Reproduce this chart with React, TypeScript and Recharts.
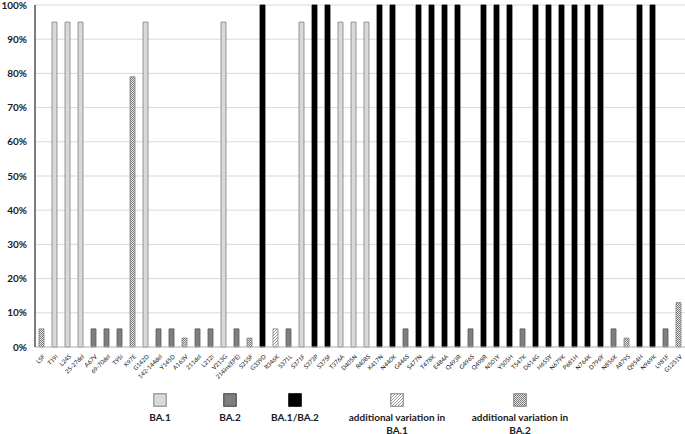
import React from "react";
import { BarChart, Bar, XAxis, YAxis, CartesianGrid, Cell } from "recharts";

const categories = [
  "L5F", "T19I", "L24S", "25-27del", "A67V", "69-70del", "T95I", "K97E", "G142D", "142-144del",
  "Y145D", "A163V", "211del", "L212I", "V213G", "214ins(EPE)", "S255F", "G339D", "R346K", "S371L",
  "S371F", "S373P", "S375F", "T376A", "D405N", "R408S", "K417N", "N440K", "G446S", "S477N",
  "T478K", "E484A", "Q493R", "G496S", "Q498R", "N501Y", "Y505H", "T547K", "D614G", "H655Y",
  "N679K", "P681H", "N764K", "D796Y", "N856K", "A879S", "Q954H", "N969K", "L981F", "G1251V",
];

const values = [
  5.3, 95, 95, 95, 5.3, 5.3, 5.3, 79, 95, 5.3,
  5.3, 2.6, 5.3, 5.3, 95, 5.3, 2.6, 100, 5.3, 5.3,
  95, 100, 100, 95, 95, 95, 100, 100, 5.3, 100,
  100, 100, 100, 5.3, 100, 100, 100, 5.3, 100, 100,
  100, 100, 100, 100, 5.3, 2.6, 100, 100, 5.3, 13,
];

// a = BA.1, b = BA.2, c = BA.1/BA.2, d = additional variation in BA.1, e = additional variation in BA.2
const groups = [
  "e", "a", "a", "a", "b", "b", "b", "e", "a", "b",
  "b", "e", "b", "b", "a", "b", "e", "c", "d", "b",
  "a", "c", "c", "a", "a", "a", "c", "c", "b", "c",
  "c", "c", "c", "b", "c", "c", "c", "b", "c", "c",
  "c", "c", "c", "c", "b", "e", "c", "c", "b", "e",
];

const legendKeys = ["a", "b", "c", "d", "e"];
const legendLabels = ["BA.1", "BA.2", "BA.1/BA.2", "additional variation in\nBA.1", "additional variation in\nBA.2"];
const yTicks = [0, 10, 20, 30, 40, 50, 60, 70, 80, 90, 100];

const styles: Record<string, { fill: string; stroke: string }> = {
  a: { fill: "#d9d9d9", stroke: "#7f7f7f" },
  b: { fill: "#7f7f7f", stroke: "#595959" },
  c: { fill: "#000000", stroke: "#000000" },
  d: { fill: "url(#hatchPat)", stroke: "#808080" },
  e: { fill: "url(#checkPat)", stroke: "#7f7f7f" },
};

const data = categories.map((name, i) => ({ name, value: values[i], group: groups[i] }));

const legendCenters = [160, 230, 295, 397, 520];

export default function App() {
  const font = "Lato, 'Liberation Sans', sans-serif";
  return (
    <div style={{ position: "absolute", left: 0, top: 0, width: 685, height: 434, background: "#fff", overflow: "hidden" }}>
      <svg width={0} height={0} style={{ position: "absolute" }}>
        <defs>
          <pattern id="hatchPat" patternUnits="userSpaceOnUse" width={3} height={3}>
            <rect width={3} height={3} fill="#ffffff" />
            <path d="M-1,1 L1,-1 M0,3 L3,0 M2,4 L4,2" stroke="#8c8c8c" strokeWidth={0.9} />
          </pattern>
          <pattern id="checkPat" patternUnits="userSpaceOnUse" width={2} height={2}>
            <rect width={2} height={2} fill="#e8e8e8" />
            <rect x={0} y={0} width={1} height={1} fill="#7a7a7a" />
            <rect x={1} y={1} width={1} height={1} fill="#7a7a7a" />
          </pattern>
        </defs>
      </svg>
      <BarChart
        width={685}
        height={380}
        data={data}
        margin={{ top: 5, right: 0, left: 0, bottom: 0 }}
        barSize={5}
      >
        <CartesianGrid vertical={false} stroke="#d9d9d9" />
        <XAxis
          dataKey="name"
          interval={0}
          angle={-45}
          textAnchor="end"
          tick={{ fontSize: 6, fill: "#111", fontFamily: font, dx: 1, dy: 1 }}
          tickLine={false}
          tickMargin={0}
          axisLine={{ stroke: "#bfbfbf" }}
          height={33}
        />
        <YAxis
          domain={[0, 100]}
          ticks={yTicks}
          tickFormatter={(v: number) => `${v}%`}
          width={35}
          tickLine={false}
          axisLine={{ stroke: "#262626", strokeWidth: 1.2 }}
          tick={{ fontSize: 10, fontWeight: 700, fill: "#1a1a1a", fontFamily: font }}
          interval={0}
        />
        <Bar dataKey="value" isAnimationActive={false} strokeWidth={0.8}>
          {data.map((d, i) => (
            <Cell key={i} fill={styles[d.group].fill} stroke={styles[d.group].stroke} />
          ))}
        </Bar>
      </BarChart>
      {legendKeys.map((k, i) => (
        <div
          key={k}
          style={{
            position: "absolute",
            left: legendCenters[i] - 70,
            top: 393,
            width: 140,
            textAlign: "center",
            fontFamily: font,
            fontWeight: 700,
            fontSize: 10,
            lineHeight: "12.5px",
            color: "#1a1a1a",
          }}
        >
          <svg width={14} height={14} style={{ display: "block", margin: "0 auto" }}>
            <rect
              x={0.75}
              y={0.75}
              width={12.5}
              height={12.5}
              fill={styles[k].fill}
              stroke={k === "a" ? "#7f7f7f" : k === "b" ? "#404040" : k === "c" ? "#000" : "#7f7f7f"}
              strokeWidth={1}
            />
          </svg>
          <div style={{ marginTop: 4, whiteSpace: "pre" }}>{legendLabels[i]}</div>
        </div>
      ))}
    </div>
  );
}
